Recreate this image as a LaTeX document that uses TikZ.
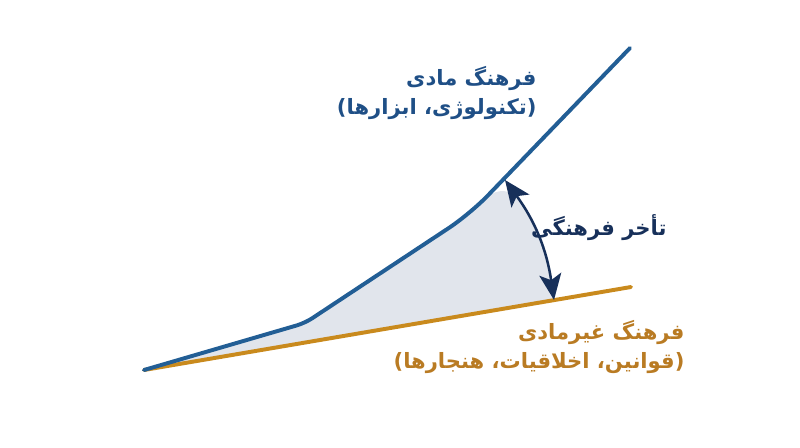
\documentclass[tikz,border=0pt]{standalone}
\usepackage{fontspec}
\newfontfamily\fafont[Script=Arabic]{DejaVu Sans}
\TeXXeTstate=1
\usetikzlibrary{arrows.meta}
\definecolor{matblue}{HTML}{225E95}
\definecolor{mattext}{HTML}{1F4F86}
\definecolor{lagnavy}{HTML}{17305A}
\definecolor{nonmatline}{HTML}{C98A1D}
\definecolor{nonmattext}{HTML}{B97B23}
\definecolor{gapfill}{HTML}{E1E5EC}

\begin{document}
\begin{tikzpicture}[x=0.025cm, y=-0.025cm, thick,
    txt/.style={font=\fafont\bfseries\fontsize{15}{21}\selectfont, align=right, anchor=east, inner sep=0pt},
    curve/.style={line width=2.8pt, line cap=round},
    lagarrow/.style={arrows={Stealth[length=6.5mm,width=5.5mm,inset=1.5mm]-Stealth[length=6.5mm,width=5.5mm,inset=1.5mm]}, line width=1.8pt, lagnavy}]

    \useasboundingbox (0,0) rectangle (800,447);

    \coordinate (o) at (144,370);
    \coordinate (k1) at (305,323);
    \coordinate (k2) at (470,214);
    \coordinate (top) at (505,180);
    \coordinate (bot) at (554,300);
    \coordinate (mend) at (630,48);
    \coordinate (nend) at (631,287);

    \fill[gapfill] (o) [rounded corners=6pt] -- (k1) [rounded corners=18pt] -- (k2) -- (top) [sharp corners] to[bend left=14] (bot) -- cycle;

    \draw[curve, nonmatline] (o) -- (nend);
    \draw[curve, matblue] (o) [rounded corners=6pt] -- (k1) [rounded corners=18pt] -- (k2) -- (mend);

    \path (top) edge[lagarrow, bend left=14] (bot);

    \node[txt, mattext] (mat) at (537,93) {\beginR فرهنگ مادی\endR\\\beginR(تکنولوژی، ابزارها)\endR};
    \node[txt, lagnavy] (lag) at (667,228) {\beginR تأخر فرهنگی\endR};
    \node[txt, nonmattext] (nonmat) at (685,347) {\beginR فرهنگ غیرمادی\endR\\\beginR(قوانین، اخلاقیات، هنجارها)\endR};
\end{tikzpicture}
\end{document}
